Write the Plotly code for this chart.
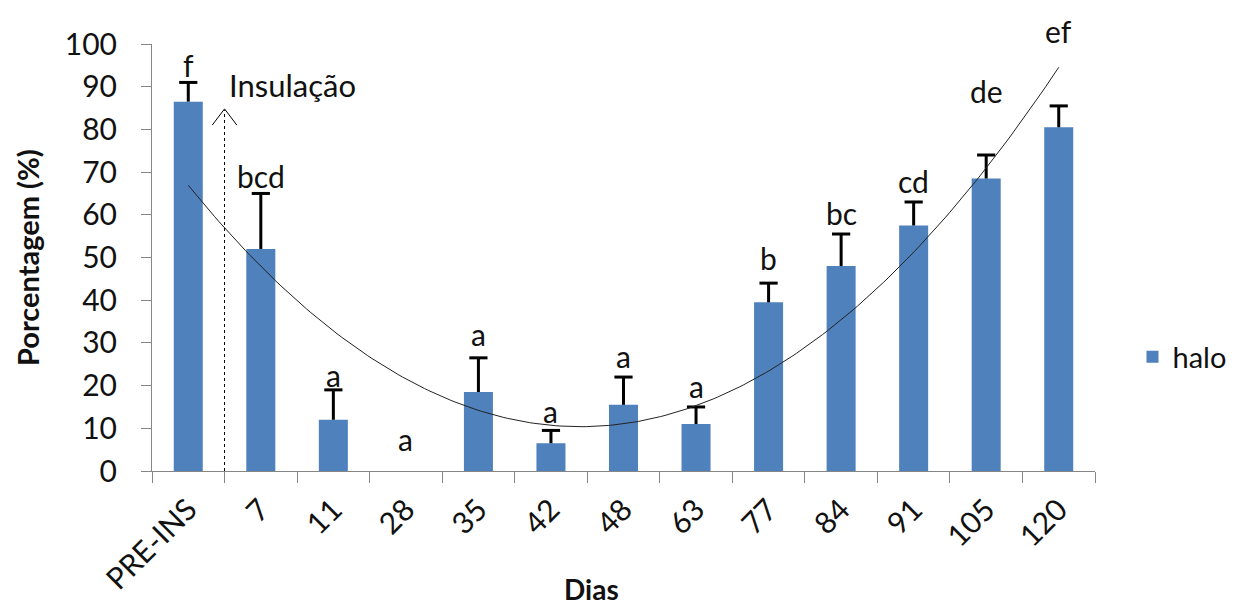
import numpy as np
import plotly.graph_objects as go

categories = ["PRE-INS", "7", "11", "28", "35", "42", "48", "63", "77", "84", "91", "105", "120"]
halo = [86.5, 52, 12, 0, 18.5, 6.5, 15.5, 11, 39.5, 48, 57.5, 68.5, 80.5]
err_up = [4.5, 13, 7, 0, 8, 3, 6.5, 4, 4.5, 7.5, 5.5, 5.5, 5]
letters = ["f", "bcd", "a", "a", "a", "a", "a", "a", "b", "bc", "cd", "de", "ef"]
letter_y = [95, 69, 22.5, 7.5, 32, 14, 27, 20, 50, 60.5, 68, 89, 103]

xi = np.arange(len(categories))
# Excel-style polynomial (order 2) trendline fitted on the bar values
coef = np.polyfit(xi, halo, 2)
xs = np.linspace(0, len(categories) - 1, 200)
ys = np.polyval(coef, xs)

# error bar stems and caps derived from the data (upper side only)
stem_x, stem_y, cap_x, cap_y = [], [], [], []
for i, (h, e) in enumerate(zip(halo, err_up)):
    if e > 0:
        stem_x += [i, i, None]
        stem_y += [h, h + e, None]
        cap_x.append(i)
        cap_y.append(h + e)

FONT = "Lato"
TXT = "#111111"
fig = go.Figure()
fig.add_trace(go.Bar(
    x=xi, y=halo, name="halo", width=0.4,
    marker=dict(color="#4F81BD", line=dict(width=0)),
))
fig.add_trace(go.Scatter(x=stem_x, y=stem_y, mode="lines", line=dict(color="black", width=3),
                         showlegend=False, hoverinfo="skip"))
fig.add_trace(go.Scatter(x=cap_x, y=cap_y, mode="markers",
                         marker=dict(symbol="line-ew", size=13, line=dict(color="black", width=3)),
                         showlegend=False, hoverinfo="skip"))
fig.add_trace(go.Scatter(x=xs, y=ys, mode="lines", line=dict(color="#222222", width=1),
                         showlegend=False, hoverinfo="skip"))

for i, (t, yy) in enumerate(zip(letters, letter_y)):
    fig.add_annotation(x=i, y=yy / 100.0, text=t, showarrow=False, xref="x", yref="y domain",
                       xanchor="center", yanchor="middle",
                       font=dict(family=FONT, size=30, color=TXT))

# Insulação arrow
fig.add_shape(type="line", x0=0.5, x1=0.5, y0=0, y1=84.5, xref="x", yref="y",
              line=dict(color="black", width=1, dash="dot"))
fig.add_shape(type="path", path="M 0.33 81 L 0.5 84.8 L 0.67 81", xref="x", yref="y",
              line=dict(color="black", width=1))
fig.add_annotation(x=0.53, y=90.5, text="Insulação", showarrow=False, xanchor="left",
                   yanchor="middle", font=dict(family=FONT, size=31, color=TXT))

# axis titles
fig.add_annotation(x=-0.132, y=0.5, xref="paper", yref="paper", text="<b>Porcentagem (%)</b>",
                   textangle=-90, showarrow=False, xanchor="center", yanchor="middle",
                   font=dict(family=FONT, size=29, color=TXT))
fig.add_annotation(x=0.466, y=-0.322, xref="paper", yref="paper", text="<b>Dias</b>",
                   showarrow=False, xanchor="center", yanchor="bottom",
                   font=dict(family=FONT, size=28, color=TXT))

fig.update_layout(
    width=1235, height=611,
    margin=dict(l=152, r=140, t=44, b=140),
    plot_bgcolor="white", paper_bgcolor="white",
    font=dict(family=FONT, size=30, color=TXT),
    legend=dict(xref="container", yref="container", x=0.917, y=0.416,
                xanchor="left", yanchor="middle",
                font=dict(family=FONT, size=29, color=TXT)),
    xaxis=dict(range=[-0.5, len(categories) - 0.5], tickmode="array", tickvals=list(xi),
               ticktext=categories, tickangle=-45, ticks="", showgrid=False, zeroline=False,
               showline=True, linecolor="#868686", linewidth=1, ticklabelstandoff=8,
               minor=dict(tickmode="linear", tick0=-0.5, dtick=1, ticks="outside",
                          ticklen=11, tickcolor="#868686", showgrid=False),
               tickfont=dict(family=FONT, size=30, color=TXT)),
    yaxis=dict(range=[0, 100], dtick=10, ticks="outside", ticklen=10, tickcolor="#868686",
               showgrid=False, zeroline=False, showline=True, linecolor="#868686", linewidth=1,
               ticklabelstandoff=18,
               tickfont=dict(family=FONT, size=30, color=TXT)),
)
fig.write_html("out.html")
